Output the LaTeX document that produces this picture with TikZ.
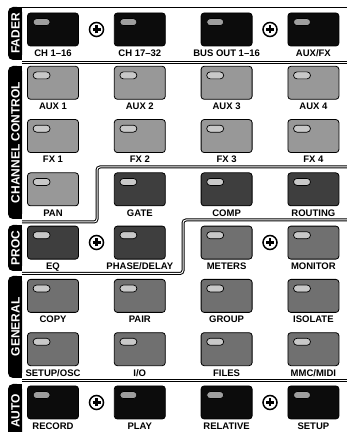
\documentclass[tikz,border=0pt]{standalone}
\usepackage{fontspec}
\setmainfont{Liberation Sans}
\usetikzlibrary{positioning}
\definecolor{keyblack}{RGB}{12, 12, 12}
\definecolor{keylight}{RGB}{152, 152, 152}
\definecolor{keydark}{RGB}{62, 62, 62}
\definecolor{keymid}{RGB}{112, 112, 112}
\definecolor{ledpale}{RGB}{200, 200, 200}
\definecolor{leddim}{RGB}{158, 158, 158}
\tikzset{
  key/.style={draw=black, line width=0.8pt, rounded corners=3pt, minimum width=51pt, minimum height=33pt, inner sep=0pt},
  led/.style={draw=black, line width=0.7pt, rounded corners=3.5pt, minimum width=17pt, minimum height=7pt, inner sep=0pt},
  keylabel/.style={font=\fontsize{9.5}{10}\selectfont\bfseries, inner sep=0pt},
  tabtext/.style={font=\fontsize{12}{12}\selectfont\bfseries, text=white, rotate=90, inner sep=0pt},
  divider/.style={draw=black, line width=1pt, double=white, double distance=1pt, rounded corners=3pt},
  plusring/.style={circle, draw=black, line width=1.5pt, fill=white, minimum size=14pt, inner sep=0pt}
}

\begin{document}
\begin{tikzpicture}[x=1pt, y=1pt]
  \useasboundingbox (0, 0) rectangle (347, 432);
  % section tabs on the left
  \foreach \tab/\bot/\top/\txt in {fader/372/425/FADER, chan/213/366/{CHANNEL CONTROL}, proc/161/207/PROC, general/54/156/GENERAL, auto/-6/48/AUTO} {
    \fill[rounded corners=5pt] (8, \bot) rectangle (22, \top);
    \fill (15, \bot) rectangle (22, \top);
    \node[tabtext] (tab-\tab) at (15.5, {(\bot+\top)/2}) {\txt};
  }
  % frame and dividers
  \draw[line width=0.9pt] (15, 425) -- (347, 425);
  \draw[divider] (22, 369) -- (347, 369);
  \draw[divider] (347, 265) -- (97, 265) -- (97, 210) -- (22, 210);
  \draw[divider] (347, 212) -- (183, 212) -- (183, 158.5) -- (22, 158.5);
  \draw[divider] (22, 51) -- (347, 51);
  % keys
  \foreach \name/\col/\row/\shade/\lit/\txt in {
    fader1/1/1/keyblack/leddim/{CH 1–16}, fader2/2/1/keyblack/leddim/{CH 17–32},
    fader3/3/1/keyblack/leddim/{BUS OUT 1–16}, fader4/4/1/keyblack/leddim/{AUX/FX},
    aux1/1/2/keylight/ledpale/{AUX 1}, aux2/2/2/keylight/ledpale/{AUX 2},
    aux3/3/2/keylight/ledpale/{AUX 3}, aux4/4/2/keylight/ledpale/{AUX 4},
    fx1/1/3/keylight/ledpale/{FX 1}, fx2/2/3/keylight/ledpale/{FX 2},
    fx3/3/3/keylight/ledpale/{FX 3}, fx4/4/3/keylight/ledpale/{FX 4},
    pan/1/4/keylight/ledpale/{PAN}, gate/2/4/keydark/ledpale/{GATE},
    comp/3/4/keydark/ledpale/{COMP}, routing/4/4/keydark/ledpale/{ROUTING},
    eq/1/5/keydark/ledpale/{EQ}, phase/2/5/keydark/ledpale/{PHASE/DELAY},
    meters/3/5/keymid/ledpale/{METERS}, monitor/4/5/keymid/ledpale/{MONITOR},
    copy/1/6/keymid/ledpale/{COPY}, pair/2/6/keymid/ledpale/{PAIR},
    group/3/6/keymid/ledpale/{GROUP}, isolate/4/6/keymid/ledpale/{ISOLATE},
    setuposc/1/7/keymid/ledpale/{SETUP/OSC}, io/2/7/keymid/ledpale/{I/O},
    files/3/7/keymid/ledpale/{FILES}, mmc/4/7/keymid/ledpale/{MMC/MIDI},
    record/1/8/keyblack/leddim/{RECORD}, play/2/8/keyblack/leddim/{PLAY},
    relative/3/8/keyblack/leddim/{RELATIVE}, autosetup/4/8/keyblack/leddim/{SETUP}} {
    \node[key, fill=\shade] (\name) at ({53+86.8*(\col-1)}, {402.5-53.28*(\row-1)}) {};
    \node[led, fill=\lit] (\name-led) at ([xshift=14.5pt, yshift=-9.5pt]\name.north west) {};
    \node[keylabel, below=3.2pt of \name] (\name-lbl) {\txt};
  }
  % link marks between paired keys
  \foreach \pair/\px/\py in {pf1/96.5/402.5, pf2/270/402.5, pp1/96.5/189.5, pp2/270/189.5, pa1/96.5/29.5, pa2/270/29.5} {
    \node[plusring] (\pair) at (\px, \py) {};
    \draw[line width=2.8pt] ([xshift=-4pt]\pair.center) -- ([xshift=4pt]\pair.center);
    \draw[line width=2.8pt] ([yshift=-4pt]\pair.center) -- ([yshift=4pt]\pair.center);
  }
\end{tikzpicture}
\end{document}
